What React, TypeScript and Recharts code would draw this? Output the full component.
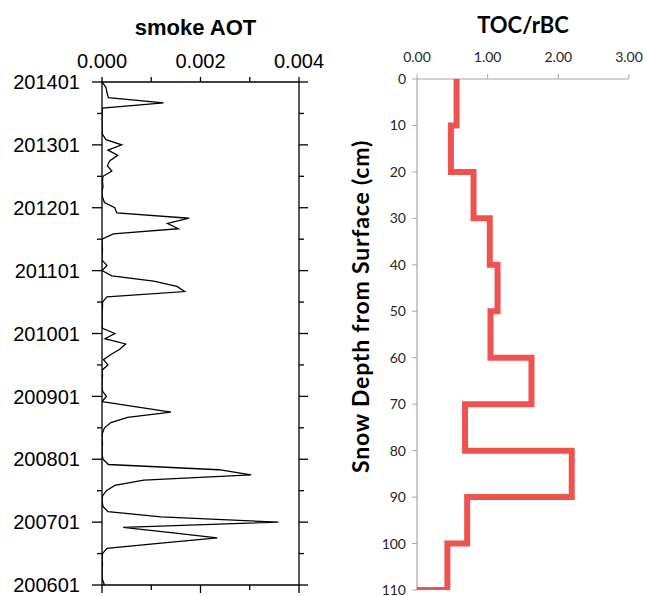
import React from 'react';
import { ScatterChart, Scatter, XAxis, YAxis } from 'recharts';

// ---------- Left panel: smoke AOT (monthly, 200601 .. 201401) ----------
const yearLabels = ['200601', '200701', '200801', '200901', '201001', '201101', '201201', '201301', '201401'];
const monthTicks = [0, 6, 12, 18, 24, 30, 36, 42, 48, 54, 60, 66, 72, 78, 84, 90, 96];
const aotTicks = [0, 0.001, 0.002, 0.003, 0.004];
const aotTickLabels = ['0.000', '', '0.002', '', '0.004'];

// monthly smoke AOT values, index 0 = 200601 ... index 96 = 201401
const aotValues = [
  0.00005, 0.00001, 0, 0, 0.00001, 0, 0.00001, 0.0001, 0.0012, 0.00234,
  0.0014, 0.00043, 0.00358, 0.0012, 0.00012, 0.00002, 0, 0.00001, 0.00009, 0.00026,
  0.00085, 0.00303, 0.00237, 0.00013, 0.00002, 0, 0, 0.00001, 0, 0.00001,
  0.00005, 0.00018, 0.00052, 0.0014, 0.0007, 0, 0.00009, 0.00001, 0, 0,
  0.00001, 0, 0.00012, 0.00003, 0.00018, 0.00036, 0.00048, 0.00006, 0.00026, 0.00001,
  0, 0, 0, 0.00001, 0.00001, 0.0001, 0.00168, 0.00152, 0.00105, 0.0002,
  0, 0.0001, 0, 0, 0.00001, 0, 0, 0.00023, 0.00155, 0.00133,
  0.00177, 0.0003, 0.00026, 0.00005, 0.00001, 0, 0.00002, 0.00001, 0.00002, 0.0002,
  0.00011, 0.00016, 0.00032, 0.00012, 0.0004, 0.00008, 0.00001, 0, 0, 0,
  0, 0.00001, 0.00125, 0.00013, 0.0001, 0.00008, 0,
];

// ---------- Right panel: TOC/rBC vs snow depth ----------
const depthBounds = [0, 10, 20, 30, 40, 50, 60, 70, 80, 90, 100, 110];
const tocRbc = [0.56, 0.48, 0.8, 1.03, 1.14, 1.04, 1.62, 0.68, 2.19, 0.71, 0.43];
const ratioTicks = [0, 1, 2, 3];
const depthTicks = [0, 10, 20, 30, 40, 50, 60, 70, 80, 90, 100, 110];

const aotPoints = aotValues.map((v, i) => ({ x: v, y: i }));

const stepPoints: { x: number; y: number }[] = [];
tocRbc.forEach((v, i) => {
  stepPoints.push({ x: v, y: depthBounds[i] });
  stepPoints.push({ x: v, y: depthBounds[i + 1] });
});
stepPoints.push({ x: 0, y: depthBounds[depthBounds.length - 1] });

const LFONT = '"Liberation Sans", Arial, Helvetica, sans-serif';
const RFONT = 'Lato, "Noto Sans", sans-serif';
const RED = '#EE5350';
const GRAY = '#A6A6A6';

const emptyShape = () => <g />;

const LeftTick = (p: any) => {
  const { x, y, payload } = p;
  const major = payload.value % 12 === 0;
  const axisX = x + 22;
  return (
    <g>
      <line x1={axisX - (major ? 10 : 5)} x2={axisX} y1={y} y2={y} stroke="#000" strokeWidth={1.3} />
      {major && (
        <text x={x} y={y} dy="0.36em" textAnchor="end" fontSize={20} fontFamily={LFONT} fill="#000">
          {yearLabels[payload.value / 12]}
        </text>
      )}
    </g>
  );
};

const RightTick = (p: any) => {
  const { x, y, payload } = p;
  const major = payload.value % 12 === 0;
  const axisX = x - 9;
  return <line x1={axisX} x2={axisX + (major ? 9 : 5)} y1={y} y2={y} stroke="#000" strokeWidth={1.3} />;
};

const TopTick = (p: any) => {
  const { x, y, index } = p;
  const axisY = y + 14;
  return (
    <g>
      <line x1={x} x2={x} y1={axisY - 5} y2={axisY} stroke="#000" strokeWidth={1.3} />
      <text x={x} y={y} textAnchor="middle" fontSize={20} fontFamily={LFONT} fill="#000">
        {aotTickLabels[index]}
      </text>
    </g>
  );
};

const BottomTick = (p: any) => {
  const { x, y, index } = p;
  const axisY = y - 8;
  const major = index % 2 === 0;
  return <line x1={x} x2={x} y1={axisY} y2={axisY + (major ? 8 : 5)} stroke="#000" strokeWidth={1.3} />;
};

const leftTitle = (p: any) => {
  const vb = p.viewBox || {};
  return (
    <text x={vb.x + vb.width / 2 - 5} y={vb.y + 35} textAnchor="middle" fontSize={22} fontWeight="bold" fontFamily={LFONT} fill="#000">
      smoke AOT
    </text>
  );
};

const rightTitle = (p: any) => {
  const vb = p.viewBox || {};
  return (
    <text x={vb.x + vb.width / 2} y={vb.y + 33} textAnchor="middle" fontSize={22} fontWeight="bold" fontFamily={RFONT} fill="#000">
      TOC/rBC
    </text>
  );
};

const depthLabel = (p: any) => {
  const vb = p.viewBox || {};
  const cx = vb.x + 39;
  const cy = vb.y + vb.height / 2 - 28;
  return (
    <text x={cx} y={cy} transform={`rotate(-90 ${cx} ${cy})`} textAnchor="middle" fontSize={23} letterSpacing={0.8} fontWeight="bold" fontFamily={RFONT} fill="#000">
      Snow Depth from Surface (cm)
    </text>
  );
};

export default function App() {
  return (
    <div style={{ position: 'absolute', left: 0, top: 0, width: 646, height: 596, background: '#fff' }}>
      <div style={{ position: 'absolute', left: 0, top: 0 }}>
        <ScatterChart width={330} height={596} margin={{ top: 0, right: 0, bottom: 0, left: 0 }}>
          <XAxis
            xAxisId="t"
            type="number"
            dataKey="x"
            orientation="top"
            domain={[0, 0.004]}
            ticks={aotTicks}
            allowDataOverflow
            height={82}
            tickSize={5}
            tickMargin={9}
            tickLine={false}
            axisLine={{ stroke: '#000', strokeWidth: 1.3 }}
            tick={(p: any) => <TopTick {...p} />}
            interval={0}
            label={leftTitle}
          />
          <XAxis
            xAxisId="b"
            type="number"
            dataKey="x"
            orientation="bottom"
            domain={[0, 0.004]}
            ticks={aotTicks}
            allowDataOverflow
            height={11}
            tickSize={8}
            tickMargin={0}
            tickLine={false}
            axisLine={{ stroke: '#000', strokeWidth: 1.3 }}
            tick={(p: any) => <BottomTick {...p} />}
            interval={0}
          />
          <YAxis
            yAxisId="l"
            type="number"
            dataKey="y"
            domain={[0, 96]}
            ticks={monthTicks}
            allowDataOverflow
            width={102}
            tickSize={10}
            tickMargin={12}
            tickLine={false}
            axisLine={{ stroke: '#000', strokeWidth: 1.3 }}
            tick={(p: any) => <LeftTick {...p} />}
            interval={0}
          />
          <YAxis
            yAxisId="r"
            type="number"
            dataKey="y"
            orientation="right"
            domain={[0, 96]}
            ticks={monthTicks}
            allowDataOverflow
            width={31}
            tickSize={9}
            tickMargin={0}
            tickLine={false}
            axisLine={{ stroke: '#000', strokeWidth: 1.3 }}
            tick={(p: any) => <RightTick {...p} />}
            interval={0}
          />
          <Scatter
            data={aotPoints}
            xAxisId="b"
            yAxisId="r"
            shape={emptyShape}
            isAnimationActive={false}
            legendType="none"
          />
          <Scatter
            data={aotPoints}
            xAxisId="t"
            yAxisId="l"
            shape={emptyShape}
            line={{ stroke: '#000', strokeWidth: 1.3 }}
            lineType="joint"
            fill="#000"
            isAnimationActive={false}
            legendType="none"
          />
        </ScatterChart>
      </div>
      <div style={{ position: 'absolute', left: 330, top: 0 }}>
        <ScatterChart width={316} height={596} margin={{ top: 0, right: 17, bottom: 6, left: 0 }}>
          <XAxis
            type="number"
            dataKey="x"
            orientation="top"
            domain={[0, 3]}
            ticks={ratioTicks}
            allowDataOverflow
            height={79}
            tickSize={5}
            tickMargin={12}
            tickFormatter={(v: number) => v.toFixed(2)}
            tick={{ fill: '#262626', fontSize: 14, fontFamily: RFONT }}
            tickLine={{ stroke: GRAY }}
            axisLine={{ stroke: GRAY, strokeWidth: 1.2 }}
            interval={0}
            label={rightTitle}
          />
          <YAxis
            type="number"
            dataKey="y"
            reversed
            domain={[0, 110]}
            ticks={depthTicks}
            allowDataOverflow
            width={87}
            tickSize={5}
            tickMargin={6}
            tick={{ fill: '#262626', fontSize: 14, fontFamily: RFONT }}
            tickLine={{ stroke: GRAY }}
            axisLine={{ stroke: GRAY, strokeWidth: 1.2 }}
            interval={0}
            label={depthLabel}
          />
          <Scatter
            data={stepPoints}
            shape={emptyShape}
            line={{ stroke: RED, strokeWidth: 6, strokeLinejoin: 'miter' }}
            lineType="joint"
            fill={RED}
            isAnimationActive={false}
            legendType="none"
          />
        </ScatterChart>
      </div>
    </div>
  );
}
